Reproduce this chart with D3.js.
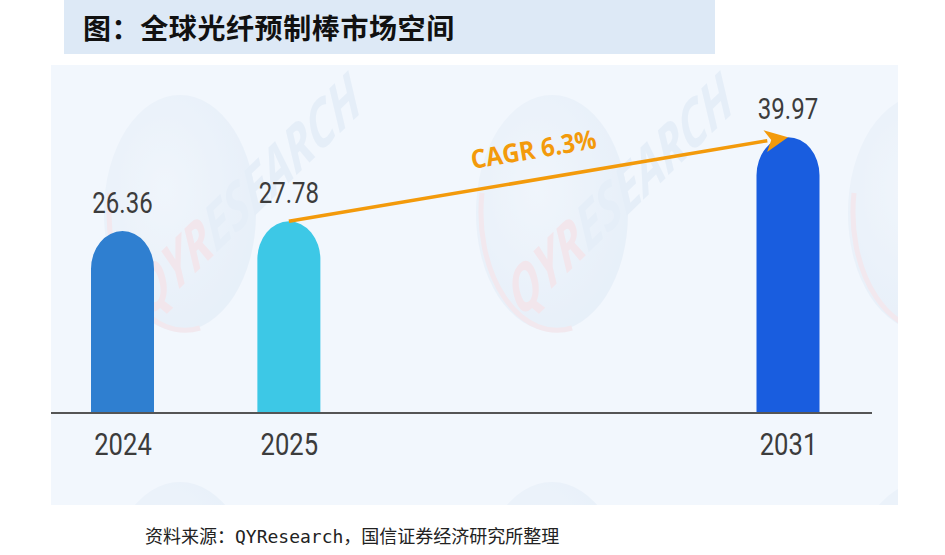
<!DOCTYPE html>
<html>
<head>
<meta charset="utf-8">
<script src="https://cdn.jsdelivr.net/npm/d3@7"></script>
<style>
  html, body { margin: 0; padding: 0; background: #fff; }
  svg { display: block; }
</style>
</head>
<body>
<div id="chart"></div>
<script>
// chart data
var years = ["2024", "2025", "2031"];
var values = [26.36, 27.78, 39.97];
var slots = [0, 1, 4];            // place on the axis, 2026-2030 left empty
var barColors = ["#2f7fd0", "#3dc8e6", "#195ddf"];
var cagrFrom = 1, cagrTo = 2;     // arrow goes from 2025 to 2031
var cagrLabel = "CAGR 6.3%";
var title = "图：全球光纤预制棒市场空间";
var source = "资料来源：QYResearch，国信证券经济研究所整理";

var width = 945, height = 555;
var base = 413, barW = 63, capH = 38;

var svg = d3.select("#chart").append("svg")
    .attr("width", width)
    .attr("height", height);

var defs = svg.append("defs");
var grad = defs.append("radialGradient")
    .attr("id", "globe")
    .attr("cx", "40%").attr("cy", "40%").attr("r", "60%");
grad.append("stop").attr("offset", "0%").attr("stop-color", "#eef4fb");
grad.append("stop").attr("offset", "100%").attr("stop-color", "#d9e6f4");
defs.append("clipPath").attr("id", "panelClip")
  .append("rect")
    .attr("x", 51).attr("y", 65)
    .attr("width", 847).attr("height", 440);

// title strip
svg.append("rect")
    .attr("x", 64).attr("y", 0)
    .attr("width", 651).attr("height", 54)
    .attr("fill", "#dde9f6");
svg.append("text")
    .attr("x", 83).attr("y", 39)
    .attr("font-family", "'Noto Sans CJK SC', sans-serif")
    .attr("font-weight", 700)
    .attr("font-size", "28px")
    .attr("letter-spacing", "0.6px")
    .attr("fill", "#111")
    .text(title);

// chart panel
svg.append("rect")
    .attr("x", 51).attr("y", 65)
    .attr("width", 847).attr("height", 440)
    .attr("fill", "#f2f7fd");

// faint QYResearch watermarks (globes repeat, lettering only where it fits)
var wm = svg.append("g")
    .attr("clip-path", "url(#panelClip)")
    .attr("opacity", 0.4);
[180, 552, 924].forEach(function(cx) {
  [213, 600].forEach(function(cy) {
    wm.append("ellipse")
        .attr("cx", cx).attr("cy", cy)
        .attr("rx", 76).attr("ry", 118)
        .attr("fill", "url(#globe)");
    wm.append("path")
        .attr("d", "M" + (cx - 70) + "," + (cy - 20) +
             " A76,118 0 0,0 " + (cx + 20) + "," + (cy + 115))
        .attr("fill", "none")
        .attr("stroke", "#f3d3d8")
        .attr("stroke-width", 5);
    if (cy > 400 || cx > 800) return;
    var t = wm.append("text")
        .attr("transform", "translate(" + (cx - 32) + "," + (cy + 106) + ") scale(1,1.55) rotate(-32)")
        .attr("font-family", "'Open Sans', sans-serif")
        .attr("font-weight", 700)
        .attr("font-style", "italic")
        .attr("font-size", "42px");
    t.append("tspan").attr("fill", "#f4cdd3").text("QYR");
    t.append("tspan").attr("fill", "#d3e2f2").text("ESEARCH");
  });
});

var x = d3.scaleLinear().domain([0, 4]).range([122.5, 788]);
var y = d3.scaleLinear().domain([0, 40]).range([base, 137]);

function barPath(d, i) {
  var cx = x(slots[i]), x0 = cx - barW / 2, x1 = cx + barW / 2, top = y(d);
  return "M" + x0 + "," + base +
    " L" + x0 + "," + (top + capH) +
    " A" + (barW / 2) + "," + capH + " 0 0,1 " + x1 + "," + (top + capH) +
    " L" + x1 + "," + base + " Z";
}

svg.append("g").selectAll("path")
    .data(values)
    .enter().append("path")
    .attr("d", barPath)
    .attr("fill", function(d, i) { return barColors[i]; });

// baseline
svg.append("line")
    .attr("x1", 51).attr("x2", 872)
    .attr("y1", base).attr("y2", base)
    .attr("stroke", "#555")
    .attr("stroke-width", 2);

// year labels
var axis = d3.axisBottom(x)
    .tickValues(slots)
    .tickFormat(function(d, i) { return years[i]; })
    .tickSize(0);
var ax = svg.append("g")
    .attr("transform", "translate(0," + base + ")")
    .call(axis);
ax.select(".domain").remove();
ax.selectAll("text")
    .attr("y", 42)
    .attr("dy", null)
    .attr("transform", "scale(0.8,1)")
    .attr("font-family", "Roboto, sans-serif")
    .attr("font-size", "32px")
    .attr("fill", "#3c3c3c");

// value labels
svg.append("g").selectAll("text")
    .data(values)
    .enter().append("text")
    .attr("transform", function(d, i) {
      return "translate(" + x(slots[i]) + "," + (y(d) - 18) + ") scale(0.8,1)";
    })
    .attr("text-anchor", "middle")
    .attr("font-family", "Roboto, sans-serif")
    .attr("font-size", "30px")
    .attr("fill", "#3c3c3c")
    .text(function(d) { return d.toFixed(2); });

// CAGR arrow
var p0 = [x(slots[cagrFrom]), y(values[cagrFrom])];
var p1 = [x(slots[cagrTo]), y(values[cagrTo])];
var ang = Math.atan2(p1[1] - p0[1], p1[0] - p0[0]);
var headL = 23, headW = 11;
var ux = Math.cos(ang), uy = Math.sin(ang);
var bx = p1[0] - ux * headL, by = p1[1] - uy * headL;

svg.append("line")
    .attr("x1", p0[0]).attr("y1", p0[1])
    .attr("x2", bx + ux * 2).attr("y2", by + uy * 2)
    .attr("stroke", "#f39a0b")
    .attr("stroke-width", 3.5);
svg.append("path")
    .attr("d", "M" + p1[0] + "," + p1[1] +
      " L" + (bx - uy * headW) + "," + (by + ux * headW) +
      " L" + (bx + ux * 6) + "," + (by + uy * 6) +
      " L" + (bx + uy * headW) + "," + (by - ux * headW) + " Z")
    .attr("fill", "#f39a0b");

var mx = (p0[0] + p1[0]) / 2 + uy * 21, my = (p0[1] + p1[1]) / 2 - ux * 21;
svg.append("text")
    .attr("transform", "translate(" + mx + "," + my + ") rotate(" + (ang * 180 / Math.PI) + ") scale(0.92,1)")
    .attr("text-anchor", "middle")
    .attr("font-family", "'Open Sans', sans-serif")
    .attr("font-weight", 700)
    .attr("font-size", "26px")
    .attr("fill", "#f39a0b")
    .text(cagrLabel);

// source note
svg.append("text")
    .attr("x", 145).attr("y", 543)
    .attr("font-family", "'DejaVu Sans Mono', 'Noto Sans CJK SC', monospace")
    .attr("font-size", "18px")
    .attr("fill", "#222")
    .text(source);
</script>
</body>
</html>
